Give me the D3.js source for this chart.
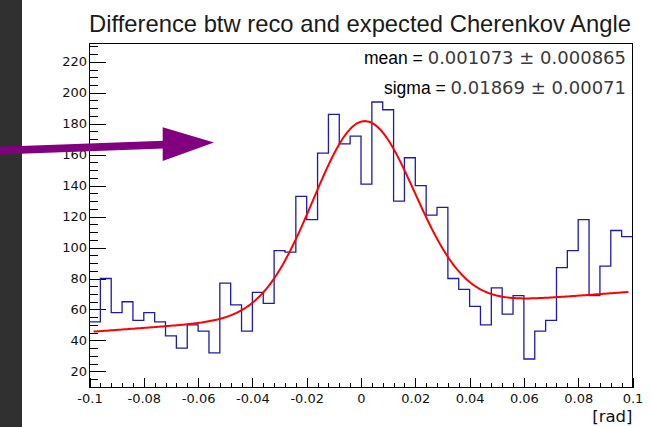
<!DOCTYPE html>
<html>
<head>
<meta charset="utf-8">
<script src="https://cdn.jsdelivr.net/npm/d3@7"></script>
<style>
  html, body { margin: 0; padding: 0; background: #fff; }
  svg { display: block; }
</style>
</head>
<body>
<svg id="chart" width="652" height="427"></svg>
<script>
// Histogram: 50 bins of width 0.004 rad from -0.1 to 0.1
const binLow = -0.1;
const binWidth = 0.004;
const counts = [
  52, 80, 58, 65, 53, 58, 52, 43, 35, 50,
  46, 32, 77, 63, 46, 71, 64, 98, 97, 133,
  118, 161, 186, 167, 172, 141, 194, 189, 130, 158,
  140, 121, 126, 80, 73, 62, 50, 74, 57, 69,
  28, 46, 53, 87, 98, 118, 69, 88, 111, 107
];

// Gaussian + linear background fit
const fitMean = 0.001073;
const fitMeanErr = 0.000865;
const fitSigma = 0.01869;
const fitSigmaErr = 0.00071;
const fitAmp = 123;
const fitP0 = 58.5;
const fitP1 = 130;
const fitRange = [-0.0985, 0.0985];

// Axis ticks
const xMajor = [-0.1, -0.08, -0.06, -0.04, -0.02, 0, 0.02, 0.04, 0.06, 0.08, 0.1];
const xLabels = ["-0.1", "-0.08", "-0.06", "-0.04", "-0.02", "0", "0.02", "0.04", "0.06", "0.08", "0.1"];
const yMajor = [20, 40, 60, 80, 100, 120, 140, 160, 180, 200, 220];
const yMinor = [10, 15, 25, 30, 35, 45, 50, 55, 65, 70, 75, 85, 90, 95, 105, 110, 115, 125, 130, 135,
                145, 150, 155, 165, 170, 175, 185, 190, 195, 205, 210, 215, 225, 230];

const titleText = "Difference btw reco and expected Cherenkov Angle";
const xUnit = "[rad]";

const svg = d3.select("#chart");

// dark side panel
svg.append("rect").attr("x", 0).attr("y", 0).attr("width", 22).attr("height", 427).attr("fill", "#303030");

const x = d3.scaleLinear().domain([-0.1, 0.1]).range([89.5, 632.5]);
const y = d3.scaleLinear().domain([9.6, 231.8]).range([387.5, 43.5]);

// title
svg.append("text")
  .attr("x", 89).attr("y", 32)
  .attr("font-family", "'Liberation Sans', Arial, sans-serif")
  .attr("font-size", 23.8)
  .attr("fill", "#1a1a1a")
  .text(titleText);

// x minor ticks
const xMinor = d3.range(0, 51).map(i => +(binLow + i * binWidth).toFixed(4))
  .filter(v => !xMajor.some(m => Math.abs(m - v) < 1e-9));

const axisStyle = g => {
  g.select(".domain").remove();
  g.selectAll("line").attr("stroke", "#000").attr("shape-rendering", "crispEdges");
  g.selectAll("text").attr("font-family", "'DejaVu Sans', Verdana, sans-serif")
    .attr("font-size", 13).attr("fill", "#111");
};

svg.append("g").attr("transform", `translate(0,${y.range()[0]})`)
  .call(d3.axisBottom(x).tickValues(xMinor).tickSize(-5).tickFormat(""))
  .call(axisStyle);

svg.append("g").attr("transform", `translate(0,${y.range()[0]})`)
  .call(d3.axisBottom(x).tickValues(xMajor).tickSize(-10).tickPadding(6.5)
    .tickFormat((d, i) => xLabels[i]))
  .call(axisStyle);

svg.append("g").attr("transform", `translate(${x.range()[0]},0)`)
  .call(d3.axisLeft(y).tickValues(yMinor).tickSize(-8.2).tickFormat(""))
  .call(axisStyle);

svg.append("g").attr("transform", `translate(${x.range()[0]},0)`)
  .call(d3.axisLeft(y).tickValues(yMajor).tickSize(-16.3).tickPadding(2.5).tickFormat(d3.format("d")))
  .call(axisStyle);

// frame
svg.append("rect")
  .attr("x", x.range()[0]).attr("y", y.range()[1])
  .attr("width", x.range()[1] - x.range()[0]).attr("height", y.range()[0] - y.range()[1])
  .attr("fill", "none").attr("stroke", "#000").attr("stroke-width", 1)
  .attr("shape-rendering", "crispEdges");

// histogram outline
const steps = counts.map((c, i) => [binLow + i * binWidth, c]);
steps.push([binLow + counts.length * binWidth, counts[counts.length - 1]]);
svg.append("path")
  .datum(steps)
  .attr("fill", "none")
  .attr("stroke", "#1c1caa")
  .attr("stroke-width", 1.3)
  .attr("d", d3.line().x(d => x(d[0])).y(d => y(d[1])).curve(d3.curveStepAfter));

// fit curve
const fitFn = v => fitP0 + fitP1 * v + fitAmp * Math.exp(-0.5 * Math.pow((v - fitMean) / fitSigma, 2));
const nSamp = 400;
const fitPts = d3.range(nSamp + 1).map(i => {
  const v = fitRange[0] + (fitRange[1] - fitRange[0]) * i / nSamp;
  return [v, fitFn(v)];
});
svg.append("path")
  .datum(fitPts)
  .attr("fill", "none")
  .attr("stroke", "#ff0000")
  .attr("stroke-width", 2)
  .attr("stroke-linejoin", "round")
  .attr("d", d3.line().x(d => x(d[0])).y(d => y(d[1])));

// fit results
const statLines = [
  { name: "mean = ", val: fitMean.toString(), err: fitMeanErr.toString(), yb: 64 },
  { name: "sigma = ", val: fitSigma.toString(), err: fitSigmaErr.toString(), yb: 94 }
];
statLines.forEach(s => {
  const t = svg.append("text")
    .attr("x", 626).attr("y", s.yb)
    .attr("text-anchor", "end");
  t.append("tspan")
    .attr("font-family", "'Liberation Sans', Arial, sans-serif")
    .attr("font-size", 17.5).attr("fill", "#000")
    .text(s.name);
  t.append("tspan")
    .attr("font-family", "'DejaVu Sans', Verdana, sans-serif")
    .attr("font-size", 18).attr("fill", "#3a3a3a")
    .text(`${s.val} \u00B1 ${s.err}`);
});

// axis unit
svg.append("text")
  .attr("x", 632.5).attr("y", 422)
  .attr("text-anchor", "end")
  .attr("font-family", "'DejaVu Sans', Verdana, sans-serif")
  .attr("font-size", 16.5).attr("fill", "#111")
  .text(xUnit);

// annotation arrow
const arrow = svg.append("g").attr("fill", "#800080").attr("stroke", "none");
arrow.append("line")
  .attr("x1", 0).attr("y1", 150.6).attr("x2", 164).attr("y2", 144.6)
  .attr("stroke", "#800080").attr("stroke-width", 7.6);
arrow.append("path")
  .attr("d", "M162.7,127.3 L214,142.6 L162.7,161 Z");
</script>
</body>
</html>
